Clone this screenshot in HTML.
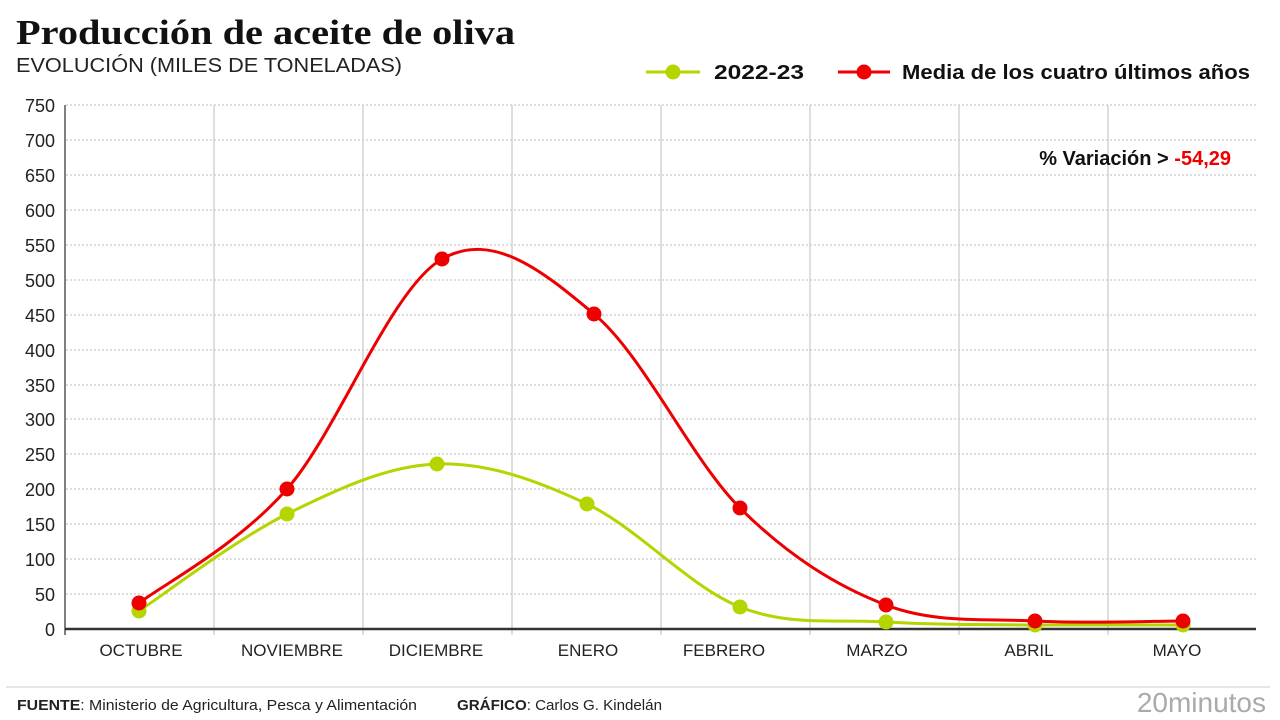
<!DOCTYPE html>
<html><head><meta charset="utf-8"><style>
body{margin:0;background:#fff;width:1280px;height:720px;overflow:hidden}
svg{display:block}
text{font-family:"Liberation Sans",sans-serif}
</style></head><body>
<svg width="1280" height="720" viewBox="0 0 1280 720">
<text x="16" y="44" font-weight="bold" font-size="35" fill="#111" textLength="499" lengthAdjust="spacingAndGlyphs" style="font-family:'Liberation Serif',serif">Producción de aceite de oliva</text>
<text x="16" y="72" font-size="20" fill="#222" textLength="386" lengthAdjust="spacingAndGlyphs">EVOLUCIÓN (MILES DE TONELADAS)</text>
<!-- legend -->
<line x1="646" y1="72" x2="700" y2="72" stroke="#b5d400" stroke-width="3"/>
<circle cx="673" cy="72" r="7.5" fill="#b5d400"/>
<text x="714" y="79" font-size="20" font-weight="bold" fill="#111" textLength="90" lengthAdjust="spacingAndGlyphs">2022-23</text>
<line x1="838" y1="72" x2="890" y2="72" stroke="#ee0000" stroke-width="3"/>
<circle cx="864" cy="72" r="7.5" fill="#ee0000"/>
<text x="902" y="79" font-size="20" font-weight="bold" fill="#111" textLength="348" lengthAdjust="spacingAndGlyphs">Media de los cuatro últimos años</text>
<!-- grid -->
<g stroke="#bbb" stroke-width="1" stroke-dasharray="2,2">
<line x1="66" x2="1256" y1="105" y2="105"/><line x1="66" x2="1256" y1="140" y2="140"/>
<line x1="66" x2="1256" y1="175" y2="175"/><line x1="66" x2="1256" y1="210" y2="210"/>
<line x1="66" x2="1256" y1="245" y2="245"/><line x1="66" x2="1256" y1="280" y2="280"/>
<line x1="66" x2="1256" y1="315" y2="315"/><line x1="66" x2="1256" y1="350" y2="350"/>
<line x1="66" x2="1256" y1="385" y2="385"/><line x1="66" x2="1256" y1="419" y2="419"/>
<line x1="66" x2="1256" y1="454" y2="454"/><line x1="66" x2="1256" y1="489" y2="489"/>
<line x1="66" x2="1256" y1="524" y2="524"/><line x1="66" x2="1256" y1="559" y2="559"/>
<line x1="66" x2="1256" y1="594" y2="594"/>
</g>
<g stroke="#ccc" stroke-width="1.3">
<line x1="214" x2="214" y1="105" y2="635"/><line x1="363" x2="363" y1="105" y2="635"/>
<line x1="512" x2="512" y1="105" y2="635"/><line x1="661" x2="661" y1="105" y2="635"/>
<line x1="810" x2="810" y1="105" y2="635"/><line x1="959" x2="959" y1="105" y2="635"/>
<line x1="1108" x2="1108" y1="105" y2="635"/>
</g>
<line x1="65" y1="105" x2="65" y2="635" stroke="#555" stroke-width="1.5"/>
<line x1="65" y1="629" x2="1256" y2="629" stroke="#333" stroke-width="2.5"/>
<g font-size="18" fill="#222" text-anchor="end">
<text x="55" y="112">750</text><text x="55" y="147">700</text><text x="55" y="182">650</text>
<text x="55" y="217">600</text><text x="55" y="252">550</text><text x="55" y="287">500</text>
<text x="55" y="322">450</text><text x="55" y="357">400</text><text x="55" y="392">350</text>
<text x="55" y="426">300</text><text x="55" y="461">250</text><text x="55" y="496">200</text>
<text x="55" y="531">150</text><text x="55" y="566">100</text><text x="55" y="601">50</text>
<text x="55" y="636">0</text>
</g>
<g font-size="17" fill="#222" text-anchor="middle">
<text x="141" y="656">OCTUBRE</text><text x="292" y="656">NOVIEMBRE</text>
<text x="436" y="656">DICIEMBRE</text><text x="588" y="656">ENERO</text>
<text x="724" y="656">FEBRERO</text><text x="877" y="656">MARZO</text>
<text x="1029" y="656">ABRIL</text><text x="1177" y="656">MAYO</text>
</g>
<text x="1231" y="165" font-size="20" font-weight="bold" text-anchor="end" fill="#111">% Variación &gt; <tspan fill="#ee0000">-54,29</tspan></text>
<!-- green -->
<path d="M139,611 C163.7,594.8 237.3,538.5 287,514 C336.7,489.5 387,465.7 437,464 C487,462.3 536.5,480.2 587,504 C637.5,527.8 690.2,587.3 740,607 C789.8,626.7 836.8,619 886,622 C935.2,625 985.5,624.5 1035,625 C1084.5,625 1158.3,625 1183,625" fill="none" stroke="#b5d400" stroke-width="3"/>
<g fill="#b5d400">
<circle cx="139" cy="611" r="7.5"/><circle cx="287" cy="514" r="7.5"/><circle cx="437" cy="464" r="7.5"/>
<circle cx="587" cy="504" r="7.5"/><circle cx="740" cy="607" r="7.5"/><circle cx="886" cy="622" r="7.5"/>
<circle cx="1035" cy="625" r="7.5"/><circle cx="1183" cy="625" r="7.5"/>
</g>
<!-- red -->
<path d="M139,603 C164,584 236.5,546.3 287,489 C337.5,431.7 390.8,288.2 442,259 C493.2,229.8 544.3,272.5 594,314 C643.7,355.5 691.3,459.5 740,508 C788.7,556.5 836.8,586.2 886,605 C935.2,623.8 985.5,618.3 1035,621 C1084.5,623.7 1158.3,621 1183,621" fill="none" stroke="#ee0000" stroke-width="3"/>
<g fill="#ee0000">
<circle cx="139" cy="603" r="7.5"/><circle cx="287" cy="489" r="7.5"/><circle cx="442" cy="259" r="7.5"/>
<circle cx="594" cy="314" r="7.5"/><circle cx="740" cy="508" r="7.5"/><circle cx="886" cy="605" r="7.5"/>
<circle cx="1035" cy="621" r="7.5"/><circle cx="1183" cy="621" r="7.5"/>
</g>
<!-- footer -->
<line x1="6" y1="687" x2="1270" y2="687" stroke="#e6e6e6" stroke-width="2"/>
<text x="17" y="710" font-size="15" fill="#222" textLength="400" lengthAdjust="spacingAndGlyphs"><tspan font-weight="bold">FUENTE</tspan>: Ministerio de Agricultura, Pesca y Alimentación</text>
<text x="457" y="710" font-size="15" fill="#222" textLength="205" lengthAdjust="spacingAndGlyphs"><tspan font-weight="bold">GRÁFICO</tspan>: Carlos G. Kindelán</text>
<text x="1266" y="712" font-size="28" fill="#aaa" text-anchor="end">20minutos</text>
</svg>
</body></html>
